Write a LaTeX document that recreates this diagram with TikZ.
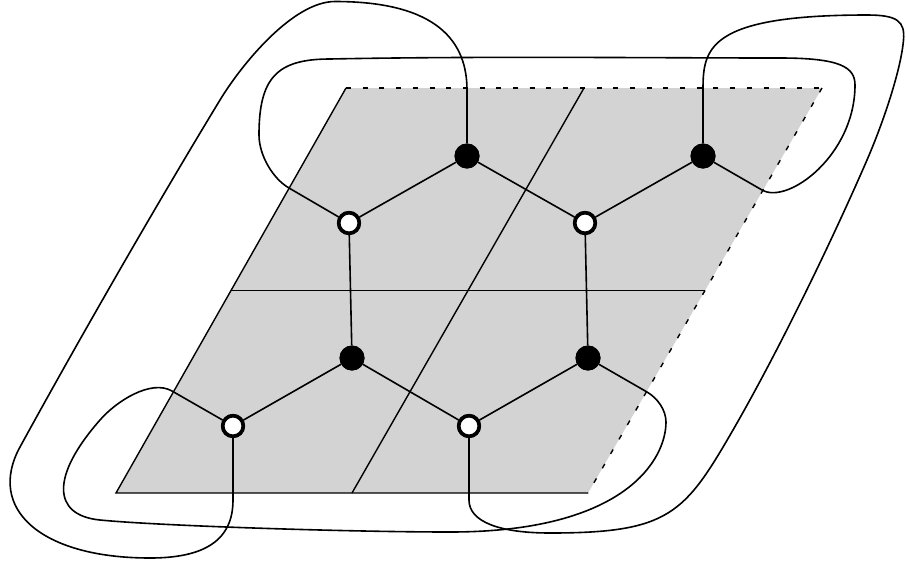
\documentclass[tikz,border=0pt]{standalone}
\definecolor{cellgray}{RGB}{211,211,211}
\begin{document}
\begin{tikzpicture}[x=1pt,y=-1pt,
  edge/.style={line width=1.6pt},
  bnode/.style={circle,fill=black,minimum size=25pt,inner sep=0pt},
  wnode/.style={circle,draw=black,fill=white,line width=3.6pt,minimum size=20.5pt,inner sep=0pt},
  border/.style={line width=1.4pt},
  dborder/.style={line width=1.4pt,dash pattern=on 5pt off 11.7pt}]
\useasboundingbox (0,0) rectangle (906,566);
% parallelogram corners
\coordinate (BL) at (116,493);
\coordinate (BR) at (588,493);
\coordinate (TR) at (822,88);
\coordinate (TL) at (346,88);
\coordinate (ML) at (231,290.5);
\coordinate (MR) at (705,290.5);
\coordinate (MT) at (584,88);
\coordinate (MB) at (352,493);
\fill[cellgray] (BL) -- (BR) -- (TR) -- (TL) -- cycle;
\draw[border] (ML) -- (MR);
\draw[border] (MT) -- (MB);
\draw[border] (TL) -- (BL) -- (BR);
\draw[dborder] (TL) -- (TR);
\draw[dborder] (TR) -- (BR);
% nodes
\node[wnode] (w1) at (233,426) {};
\node[bnode] (b3) at (352,358) {};
\node[wnode] (w2) at (349,223) {};
\node[bnode] (b1) at (467,156) {};
\node[wnode] (w3) at (585,223) {};
\node[bnode] (b2) at (703,156) {};
\node[wnode] (w4) at (469,426) {};
\node[bnode] (b4) at (588,358) {};
% waypoints
\coordinate (a1) at (172,391);
\coordinate (a5) at (647,392);
\coordinate (bs) at (233,500);
\coordinate (bt) at (467,90);
\coordinate (cs) at (469,500);
\coordinate (ct) at (703,90);
\coordinate (d1) at (289,188);
\coordinate (d6) at (762,190);
% wrap-around curves
\draw[edge] (w1) -- (a1)
  .. controls (151.1,379) and (116.5,401) .. (100,420)
  .. controls (51.4,475.2) and (51.4,515.2) .. (100,520)
  .. controls (160,525.9) and (350,532) .. (450,532)
  .. controls (626,532) and (666,459) .. (666,422)
  .. controls (666,410) and (657.4,398) .. (a5) -- (b4);
\draw[edge] (w1) -- (bs)
  .. controls (233,540) and (205,558) .. (150,558)
  .. controls (40,558) and (-13.6,508.4) .. (20,447)
  .. controls (77.6,341.8) and (157.6,202.6) .. (220,100)
  .. controls (241.8,64.1) and (293,1.5) .. (335,1.5)
  .. controls (439,1.5) and (467,43) .. (bt) -- (b1);
\draw[edge] (w4) -- (cs)
  .. controls (469,522) and (500,533) .. (550,533)
  .. controls (669,533) and (684.5,514) .. (733,430)
  .. controls (778,352) and (831.2,242.5) .. (867,160)
  .. controls (882.9,123.3) and (901,70) .. (903.5,40)
  .. controls (905.2,21) and (897,15) .. (867,15)
  .. controls (707,15) and (703,49) .. (ct) -- (b2);
\draw[edge] (w2) -- (d1)
  .. controls (272.6,178.5) and (259,155) .. (259,135)
  .. controls (259,78) and (276.75,59) .. (330,59)
  .. controls (480,56) and (650,58) .. (780,58)
  .. controls (840,58) and (855,67) .. (855,85)
  .. controls (855,155) and (788,205) .. (d6) -- (b2);
% hexagonal edges
\draw[edge] (w1) -- (b3);
\draw[edge] (b3) -- (w2);
\draw[edge] (w2) -- (b1);
\draw[edge] (b1) -- (w3);
\draw[edge] (w3) -- (b2);
\draw[edge] (b3) -- (w4);
\draw[edge] (w4) -- (b4);
\draw[edge] (b4) -- (w3);
% redraw nodes on top
\node[wnode] at (w1) {};
\node[bnode] at (b3) {};
\node[wnode] at (w2) {};
\node[bnode] at (b1) {};
\node[wnode] at (w3) {};
\node[bnode] at (b2) {};
\node[wnode] at (w4) {};
\node[bnode] at (b4) {};
\end{tikzpicture}
\end{document}
